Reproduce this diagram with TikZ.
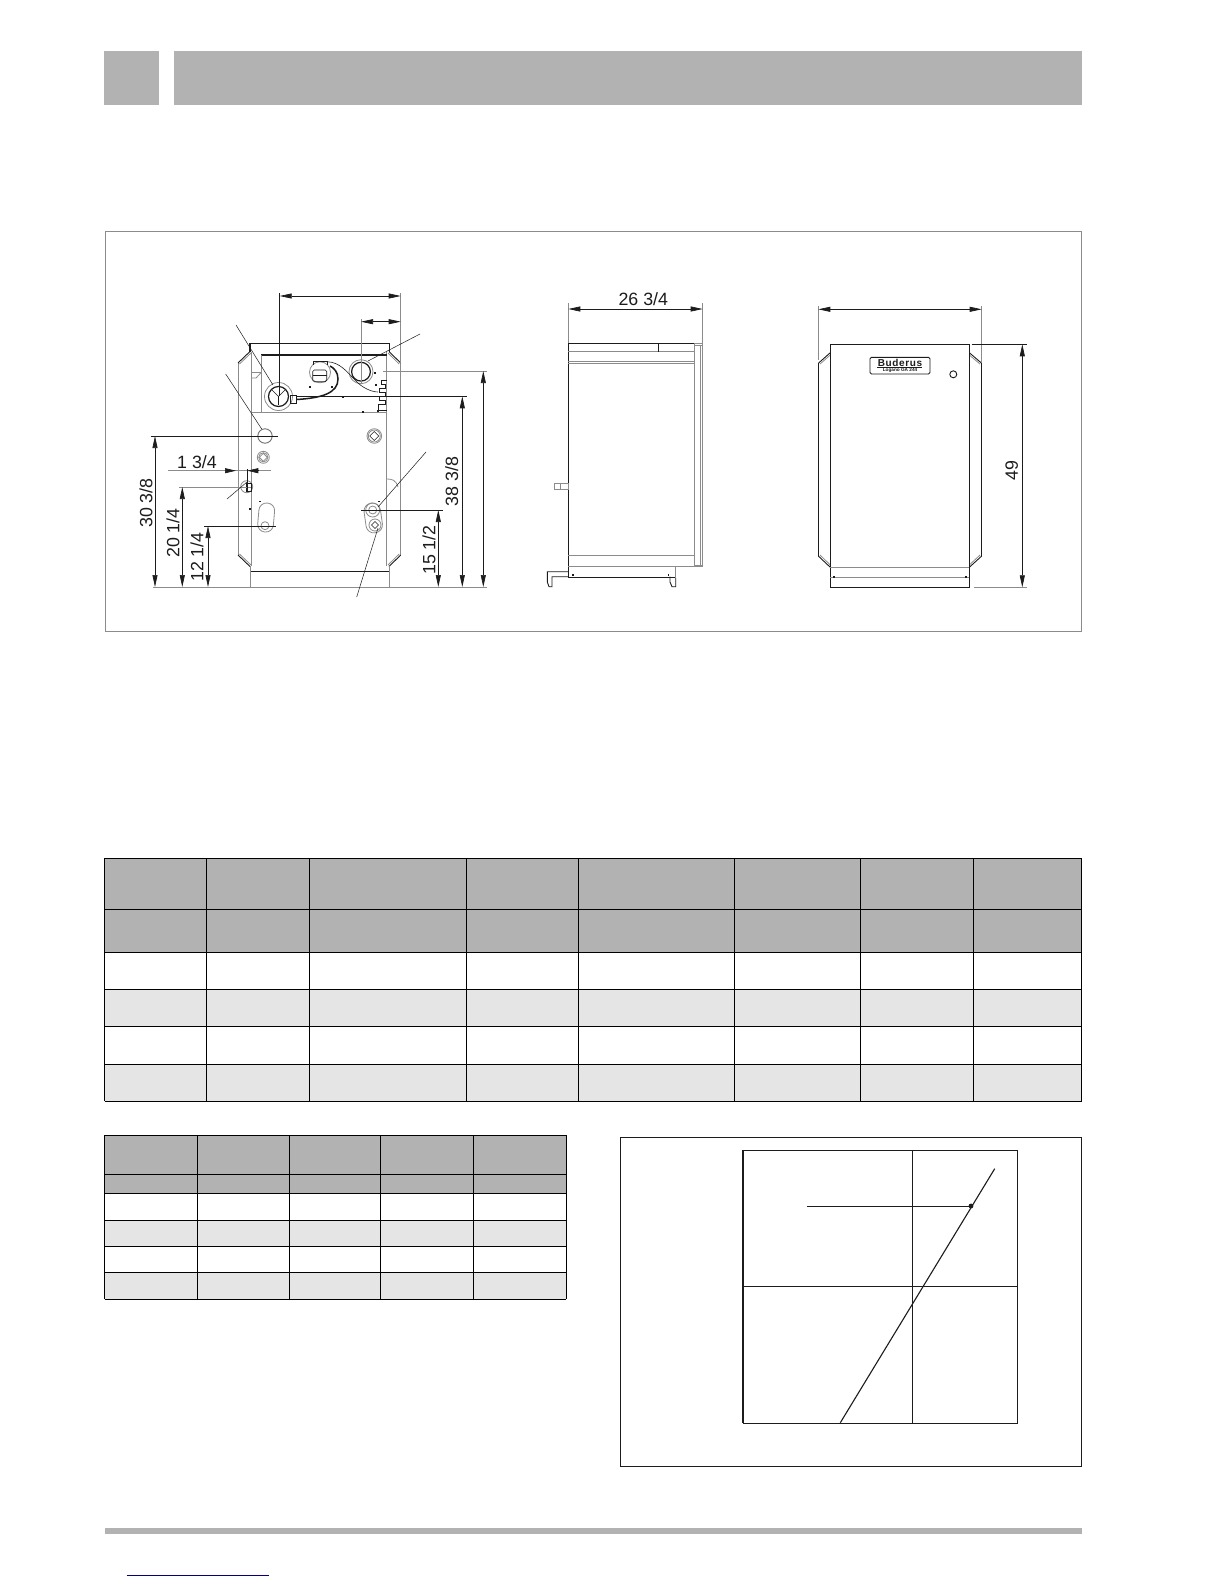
\documentclass[tikz,border=0pt]{standalone}
\usepackage{fontspec}
\setmainfont{Liberation Sans}
\usetikzlibrary{arrows.meta}
\definecolor{hdr}{HTML}{B2B2B2}
\definecolor{alt}{HTML}{E5E5E5}
\definecolor{gl}{HTML}{8C8C8C}
\definecolor{ink}{HTML}{1C1C1C}
\tikzset{
  dk/.style={draw=ink,line width=0.9pt},
  fine/.style={draw=ink,line width=0.6pt},
  thk/.style={draw=ink,line width=1.2pt},
  gr/.style={draw=gl,line width=0.8pt},
  ext/.style={draw=gl,line width=0.7pt},
  extd/.style={draw=ink,line width=0.7pt},
  lead/.style={draw=ink,line width=0.5pt},
  dim/.style={draw=ink,line width=0.7pt,{Triangle[length=12pt,width=5pt]}-{Triangle[length=12pt,width=5pt]}},
  lab/.style={font=\fontsize{17.8}{18}\selectfont,text=ink,inner sep=0pt},
  vlab/.style={lab,rotate=90},
  grid/.style={draw=black,line width=1pt},
  dotm/.style={fill=ink,draw=none},
}
\begin{document}
\begin{tikzpicture}[x=1pt,y=-1pt]
\useasboundingbox (0,0) rectangle (1224,1584);
\fill[white] (0,0) rectangle (1224,1584);
% page header
\fill[hdr] (104.2,51) rectangle (159,105);
\fill[hdr] (173.8,51) rectangle (1082,105);
% figure frame
\draw[draw=gl,line width=0.8pt] (105,231.3) rectangle (1081.6,631.7);

% ---------- rear view
\draw[gr] (238,363) -- (238,555);
\draw[gr] (400.7,363) -- (400.7,555);
\draw[gr] (251.7,352) -- (251.7,566);
\draw[gr] (386.7,352) -- (386.7,566);
\draw[dk] (238,363) -- (250,351.5); \draw[gr] (239.5,364) -- (251,353);
\draw[dk] (400.7,363) -- (389,351.5); \draw[gr] (399.2,364) -- (388,353);
\draw[dk] (238,555) -- (250,566.5); \draw[gr] (239.5,554) -- (251,565);
\draw[dk] (400.7,555) -- (389,566.5); \draw[gr] (399.2,554) -- (388,565);
\draw[thk] (250,352) -- (250,343.3) -- (389.3,343.3) -- (389.3,352);
\draw[thk] (261.7,357) -- (261.7,355) -- (386.7,355);
\draw[gr] (261.7,355) -- (261.7,412.3);
\draw[gr] (251.7,412.3) -- (386.7,412.3);
\draw[gr] (251.7,372) -- (261.7,372);
\draw[gr] (261.7,372) -- (256,378) -- (252,378);
\draw[thk] (250,571.7) -- (389.3,571.7);
\draw[gr] (250,566) -- (250,587) -- (389.3,587) -- (389.3,566);
% burner
\draw[gr] (278.5,396.5) circle (14);
\draw[thk] (278.5,396.5) circle (10);
\draw[fine] (272,390) -- (278.5,396.5) -- (285,390) (278.5,396.5) -- (278.5,405);
\draw[dk] (290,395.5) rectangle (296.5,403.5);
\draw[line width=1.5pt,draw=ink] (296.7,399.5) .. controls (322,398) and (338,393) .. (338,379) .. controls (338,372) and (334,368) .. (330,366);
% flue
\draw[gr] (361,371.7) circle (12);
\draw[thk] (361,371.7) circle (9.4);
% gas part
\draw[gr] (320,372.3) circle (10.5);
\draw[fine,rounded corners=1.5pt] (312.7,370) rectangle (326.7,381.7);
\draw[fine] (312.7,375) -- (326.7,375);
\draw[fine] (313.5,365) -- (313.5,361) -- (327,361) -- (327,365);
\draw[fine] (326.7,361.7) .. controls (340,362) and (347,372) .. (355,380) .. controls (362,388) and (372,392) .. (378,392);
% notched edge
\draw[fine] (386.7,380) -- (381,380) -- (381,384) -- (385,384) -- (385,388) -- (379,388) -- (379,392) -- (385,392) -- (385,396) -- (379,396) -- (379,400) -- (385,400) -- (385,404) -- (378,404) -- (378,410) -- (386.7,410);
\draw[gr] (387,479) .. controls (392,479) and (396,480) .. (398,487);
% rear openings
\draw[draw=gl!80!black,line width=0.9pt] (265,436) circle (7.2);
\draw[gr] (263.3,457.3) circle (6); \draw[gr] (263.3,457.3) circle (4.6);
\draw[gr] (263.3,453.3) -- (267.3,457.3) -- (263.3,461.3) -- (259.3,457.3) -- cycle;
\draw[gr] (374.3,436) circle (7.3); \draw[gr] (374.3,436) circle (6);
\draw[fine] (374.3,431.5) -- (378.8,436) -- (374.3,440.5) -- (369.8,436) -- cycle;
\draw[gr] (246.7,486.7) circle (6);
\draw[fine] (246.7,483) rectangle (251,491);
\draw[gr] (246.7,487) -- (251,487);
\draw[gr,rounded corners=7.5pt,rotate around={-5:(266,517.5)}] (258.3,503) rectangle (274,532);
\draw[gr] (265,525.7) circle (4);
\draw[gr,rounded corners=8pt,rotate around={8:(373,518)}] (365,503) rectangle (381.5,533);
\draw[gr] (372.7,510) circle (7); \draw[gr] (372.7,510) circle (4);
\draw[gr] (375,525) circle (6);
\draw[fine] (375,521.5) -- (378.5,525) -- (375,528.5) -- (371.5,525) -- cycle;
% small marks
\foreach \px/\py in {260/501.5,379/501.5,250/509,310/386.7,343/396.7,375/373,375.7/385,331.7/386.7,363/411.7,378/411}{
  \fill[dotm] (\px-0.8,\py-0.8) rectangle (\px+0.8,\py+0.8);
}
% rear view extension lines
\draw[extd] (279.7,293) -- (279.7,396.3);
\draw[ext] (400.7,293) -- (400.7,363);
\draw[ext] (361,319) -- (361,383);
\draw[extd] (150.7,436) -- (277.7,436);
\draw[ext] (179,487) -- (246.7,487);
\draw[extd] (204,526) -- (276,526);
\draw[extd] (361,510) -- (443,510);
\draw[extd] (296.7,396.3) -- (466.7,396.3);
\draw[ext] (383,371) -- (486.7,371);
\draw[ext] (153,587) -- (250,587);
\draw[ext] (390,587) -- (487,587);
\draw[ext] (168,470.7) -- (270.7,470.7);
\draw[extd] (247.3,469) -- (247.3,492);
% rear view dimensions
\draw[dim] (279.7,296) -- (400.7,296);
\draw[dim] (361,321.7) -- (400.7,321.7);
\draw[dim] (155,436) -- (155,587);
\draw[dim] (182.3,487) -- (182.3,587);
\draw[dim] (208,526) -- (208,587);
\draw[dim] (438.3,510) -- (438.3,587);
\draw[dim] (462.3,396.3) -- (462.3,587);
\draw[dim] (483.3,371) -- (483.3,587);
\draw[draw=ink,line width=0.7pt,-{Triangle[length=11pt,width=5pt]}] (225,470.7) -- (236,470.7);
\draw[draw=ink,line width=0.7pt,-{Triangle[length=11pt,width=5pt]}] (259,470.7) -- (247.3,470.7);
% leaders
\draw[lead] (236,325) -- (273,385);
\draw[lead] (225.7,374) -- (261.7,429);
\draw[lead] (420,334) -- (368,361);
\draw[lead] (426,452) -- (378,507);
\draw[lead] (356.7,597) -- (378,528);
\draw[lead] (227,499) -- (247,482);
% labels
\node[vlab] (d1) at (146,503) {30 3/8};
\node[vlab] (d2) at (173,533) {20 1/4};
\node[vlab] (d3) at (197,557) {12 1/4};
\node[lab] (d4) at (197,461.7) {1 3/4};
\node[vlab] (d5) at (429,550) {15 1/2};
\node[vlab] (d6) at (451.7,481.7) {38 3/8};

% ---------- side view
\draw[thk] (568.3,343.3) -- (694,343.3);
\draw[thk] (568.3,343.3) -- (568.3,576.7);
\draw[gr] (694,343.3) -- (694,566);
\draw[gr] (568.3,351.7) -- (694,351.7);
\draw[dk] (658.3,343.3) -- (658.3,351.7);
\draw[gr] (568.3,361.2) -- (694,361.2);
\draw[gr] (568.3,363.2) -- (694,363.2);
\draw[gr] (568.3,555.3) -- (694,555.3);
\draw[gr] (568.3,566.7) -- (702.7,566.7);
\draw[gr] (694,343.3) -- (702.7,343.3) -- (702.7,566.7);
\draw[gr] (700.7,345) -- (700.7,565);
\draw[gr] (694,345) -- (702.7,345);
\draw[gr] (694,565) -- (702.7,565);
\draw[gr] (554.3,483.3) rectangle (568.3,489.3);
\draw[gr] (560,483.3) -- (560,489.3);
\draw[thk] (568.3,577.5) -- (675.7,577.5);
\draw[gr] (675.7,566.7) -- (675.7,578);
\draw[dk] (568.3,571.7) -- (547.3,571.7) -- (547.3,582) -- (549,586.7) -- (552,586.7) -- (552,576.7) -- (568.3,576.7);
\draw[dk] (670,576.7) -- (670,582) -- (672,586.7) -- (675.7,586.7) -- (675.7,578);
\fill[dotm] (572,573.5) rectangle (573.5,575.5);
\fill[dotm] (667.5,573.5) rectangle (669,575.5);
\draw[ext] (568.3,303) -- (568.3,343.3);
\draw[ext] (702.7,303) -- (702.7,343.3);
\draw[dim] (568.3,309) -- (702.7,309);
\node[lab] (d7) at (643.3,299.3) {26 3/4};

% ---------- front view
\draw[dk] (818.3,363.3) -- (818.3,556);
\draw[dk] (981.7,363.3) -- (981.7,556);
\draw[dk] (818.3,363.3) -- (830.3,352.7); \draw[gr] (820,364) -- (830.3,355);
\draw[dk] (981.7,363.3) -- (969.3,352.7); \draw[gr] (980,364) -- (969.3,355);
\draw[dk] (818.3,556) -- (830.3,567.3); \draw[gr] (820,555) -- (830.3,565);
\draw[dk] (981.7,556) -- (969.3,567.3); \draw[gr] (980,555) -- (969.3,565);
\draw[thk] (830.3,344.3) rectangle (969.3,587.3);
\draw[draw=gl,line width=1.4pt] (830.3,567.3) -- (969.3,567.3);
\draw[gr] (830.3,577.7) -- (969.3,577.7);
\fill[dotm] (832.5,575.7) rectangle (834.5,578);
\fill[dotm] (965,575.7) rectangle (967,578);
\draw[dk,rounded corners=1.5pt] (870,357.3) rectangle (930,374);
\draw[dk] (877,367.6) -- (922,367.6);
\node[inner sep=0pt,font=\fontsize{10}{10}\selectfont\bfseries\addfontfeature{LetterSpace=6},text=ink] (logo) at (900,362.8) {Buderus};
\node[inner sep=0pt,font=\fontsize{4.7}{5}\selectfont\bfseries,text=ink] (model) at (900,370.8) {Logano GA 244};
\draw[dk] (953.3,374.3) circle (3.5);
\draw[ext] (818.3,306) -- (818.3,360);
\draw[ext] (981.7,306) -- (981.7,363);
\draw[dim] (818.3,309.3) -- (981.7,309.3);
\draw[extd] (971.7,344.3) -- (1026.7,344.3);
\draw[ext] (974,587.3) -- (1026.7,587.3);
\draw[dim] (1022.3,344.3) -- (1022.3,587.3);
\node[vlab] (d8) at (1011.7,470.7) {49};

% ---------- first table
\fill[hdr] (104.6,858.3) rectangle (1081.7,952.3);
\fill[alt] (104.6,989.3) rectangle (1081.7,1026.3);
\fill[alt] (104.6,1064.3) rectangle (1081.7,1101.3);
\foreach \cx in {104.6,206.4,309.3,466.4,578.2,734.3,860.3,973.3,1081.7}{
  \draw[grid] (\cx,858.3) -- (\cx,1101.3);
}
\foreach \cy in {858.3,909.3,952.3,989.3,1026.3,1064.3,1101.3}{
  \draw[grid] (104.6,\cy) -- (1081.7,\cy);
}
% ---------- second table
\fill[hdr] (104.7,1135.3) rectangle (566.3,1193.3);
\fill[alt] (104.7,1220) rectangle (566.3,1246.3);
\fill[alt] (104.7,1272.3) rectangle (566.3,1299);
\foreach \cx in {104.7,197.3,289.3,380.3,473.7,566.3}{
  \draw[grid] (\cx,1135.3) -- (\cx,1299);
}
\foreach \cy in {1135.3,1174.3,1193.3,1220,1246.3,1272.3,1299}{
  \draw[grid] (104.7,\cy) -- (566.3,\cy);
}
% ---------- chart
\draw[dk] (620.7,1137.3) rectangle (1081.6,1466);
\draw[dk] (743,1150.3) rectangle (1017.3,1423.3);
\draw[draw=ink,line width=1.8pt] (743,1150.3) -- (743,1423.3);
\draw[dk] (912.3,1150.3) -- (912.3,1423.3);
\draw[dk] (743,1286) -- (1017.3,1286);
\draw[dk,line width=1.1pt] (840.3,1422.7) -- (994.7,1168.7);
\draw[dk] (806.7,1206.3) -- (971,1206.3);
\fill[ink] (971,1206) circle (2.4);

% ---------- page footer
\fill[hdr] (105,1528) rectangle (1082,1534);
\draw[draw=blue!50!black,line width=1pt] (126.7,1575.3) -- (269,1575.3);
\end{tikzpicture}
\end{document}
